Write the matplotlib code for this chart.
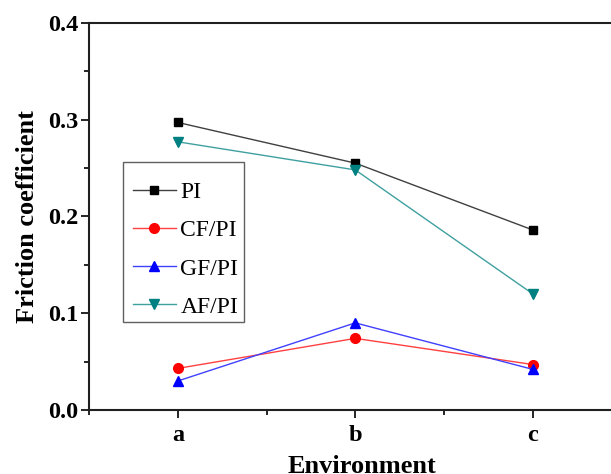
import numpy as np
import matplotlib
matplotlib.use("Agg")
import matplotlib.pyplot as plt
from matplotlib.patches import Rectangle
from matplotlib.ticker import MultipleLocator

plt.rcParams['font.family'] = ['Liberation Serif', 'DejaVu Serif']

environments = ["a", "b", "c"]
pi_vals = [0.297, 0.255, 0.186]
cf_vals = [0.043, 0.074, 0.047]
gf_vals = [0.030, 0.090, 0.042]
af_vals = [0.277, 0.248, 0.120]

x = np.arange(1, len(environments) + 1)

fig = plt.figure(figsize=(6.11, 4.74), dpi=100)
# axes runs past the right edge of the figure, like the cropped original
ax = fig.add_axes([0.146, 0.135, 0.871, 0.817])

ax.plot(x, pi_vals, color="#404040", lw=1.0, marker="s", ms=6,
        mfc="black", mec="black", label="PI")
ax.plot(x, cf_vals, color="#ff4040", lw=1.0, marker="o", ms=7,
        mfc="red", mec="red", label="CF/PI")
ax.plot(x, gf_vals, color="#4040ff", lw=1.0, marker="^", ms=7,
        mfc="blue", mec="blue", label="GF/PI")
ax.plot(x, af_vals, color="#40a0a0", lw=1.0, marker="v", ms=7,
        mfc="#008080", mec="#008080", label="AF/PI")

ax.set_xlim(0.5, 3.5)
ax.set_ylim(0.0, 0.4)
ax.set_xticks(x)
ax.set_xticklabels(environments)
ax.xaxis.set_minor_locator(MultipleLocator(0.5))
ax.yaxis.set_major_locator(MultipleLocator(0.1))
ax.yaxis.set_minor_locator(MultipleLocator(0.05))
ax.tick_params(axis="both", which="both", direction="out", width=1.2)
ax.tick_params(axis="both", which="major", length=6, labelsize=17.5, pad=2)
ax.tick_params(axis="x", which="major", pad=5)
ax.tick_params(axis="both", which="minor", length=3.5)
for lab in ax.get_xticklabels() + ax.get_yticklabels():
    lab.set_fontweight("bold")

for s in ax.spines.values():
    s.set_linewidth(1.5)
    s.set_color("#202020")

ax.set_xlabel("Environment", fontsize=19, fontweight="bold", labelpad=6)
ax.xaxis.label.set_x(0.513)
ax.set_ylabel("Friction coefficient", fontsize=19, fontweight="bold", labelpad=6)

# legend box drawn separately so the entries sit low in it, as in the original
ax.add_patch(Rectangle((0.064, 0.227), 0.227, 0.414, transform=ax.transAxes,
                       fill=True, facecolor="white", edgecolor="#606060",
                       lw=1.0, zorder=4))
leg = ax.legend(loc="upper left", bbox_to_anchor=(0.0827, 0.589), fontsize=17,
                frameon=False, handlelength=1.8, labelspacing=0.70,
                borderpad=0, handletextpad=0.2, borderaxespad=0)
leg.set_zorder(5)

fig.savefig("out.png", dpi=100)
